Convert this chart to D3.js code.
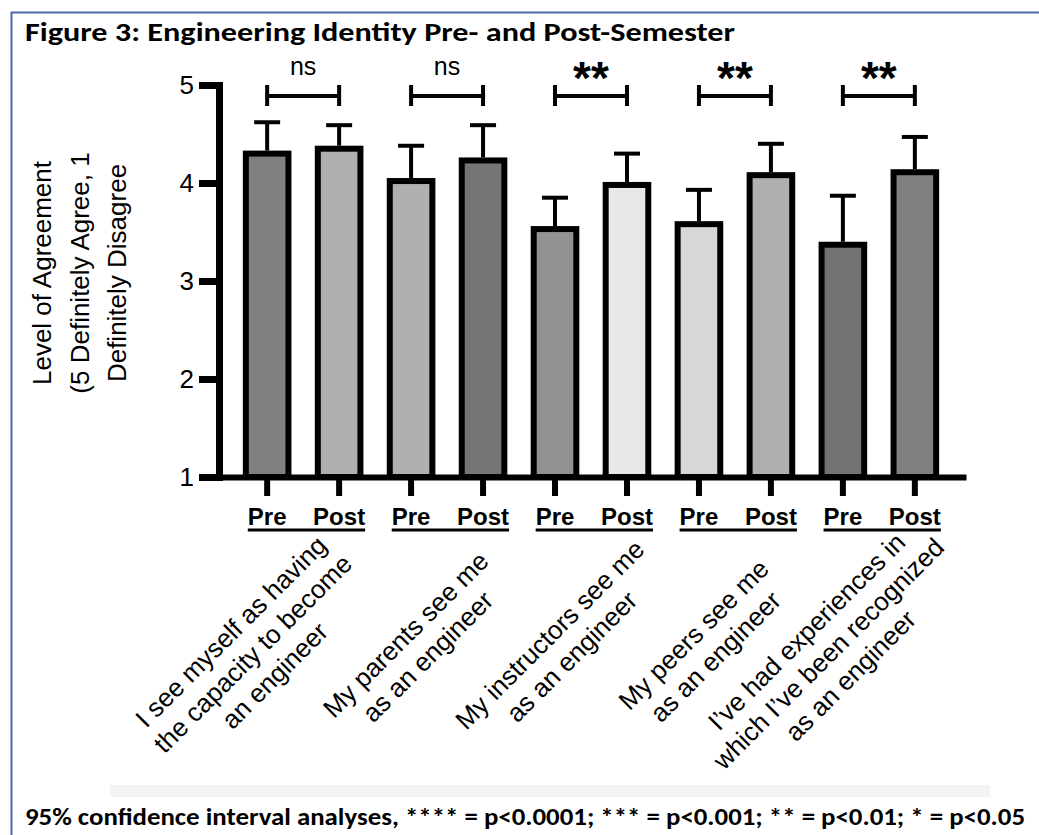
<!DOCTYPE html>
<html>
<head>
<meta charset="utf-8">
<script src="https://cdn.jsdelivr.net/npm/d3@7"></script>
<style>
  html, body { margin: 0; padding: 0; background: #fff; }
  svg { display: block; }
</style>
</head>
<body>
<svg id="chart" width="1039" height="835"></svg>
<script>
// Survey statements (one group each), shown as wrapped lines
const statements = [
  ["I see myself as having", "the capacity to become", "an engineer"],
  ["My parents see me", "as an engineer"],
  ["My instructors see me", "as an engineer"],
  ["My peers see me", "as an engineer"],
  ["I\u2019ve had experiences in", "which I\u2019ve been recognized", "as an engineer"]
];
const phases = ["Pre", "Post"];

// Mean level of agreement and upper 95% CI limit, per statement
const preMeans  = [4.30, 4.02, 3.53, 3.58, 3.37];
const postMeans = [4.35, 4.23, 3.98, 4.08, 4.11];
const preUpper  = [4.62, 4.38, 3.85, 3.93, 3.87];
const postUpper = [4.59, 4.59, 4.30, 4.40, 4.47];

// Pre vs post comparison result per statement
const significance = ["ns", "ns", "**", "**", "**"];

const yTicks = [1, 2, 3, 4, 5];
const yTitleLines = ["Level of Agreement", "(5 Definitely Agree, 1", "Definitely Disagree"];
const titleText = "Figure 3: Engineering Identity Pre- and Post-Semester";
const footnoteText = "95% confidence interval analyses, **** = p<0.0001; *** = p<0.001; ** = p<0.01; * = p<0.05";

// Fill of each bar, in drawing order (statement by statement, pre then post)
const barFills = ["#7f7f7f", "#b0b0b0", "#b0b0b0", "#757575", "#929292",
                  "#e8e8e8", "#d7d7d7", "#b0b0b0", "#737373", "#808080"];

const ARIAL = "'Liberation Sans', Arial, Helvetica, sans-serif";
const CALIBRI = "Carlito, Calibri, Lato, sans-serif";

// One record per bar
const bars = [];
statements.forEach((s, i) => {
  bars.push({ key: i + "-Pre",  group: i, phase: phases[0], mean: preMeans[i],  upper: preUpper[i] });
  bars.push({ key: i + "-Post", group: i, phase: phases[1], mean: postMeans[i], upper: postUpper[i] });
});

const svg = d3.select("#chart");

// Figure frame
svg.append("path")
  .attr("d", "M11.5,835V12.5H1039")
  .attr("fill", "none")
  .attr("stroke", "#4a6aa6")
  .attr("stroke-width", 2);

// Title
svg.append("text")
  .attr("x", 25).attr("y", 41)
  .attr("font-family", CALIBRI)
  .attr("font-weight", "bold")
  .attr("font-size", 26)
  .attr("textLength", 710)
  .attr("lengthAdjust", "spacingAndGlyphs")
  .text(titleText);

// Scales
const x = d3.scaleBand()
  .domain(bars.map(d => d.key))
  .range([219, 963])
  .paddingInner(0.408)
  .paddingOuter(0.373);

const y = d3.scaleLinear().domain([1, 5]).range([477, 85]);
const bw = x.bandwidth();

// Bars
svg.append("g").selectAll("rect")
  .data(bars)
  .join("rect")
  .attr("x", d => x(d.key))
  .attr("y", d => y(d.mean))
  .attr("width", bw)
  .attr("height", d => y(1) - y(d.mean))
  .attr("fill", (d, i) => barFills[i])
  .attr("stroke", "#000")
  .attr("stroke-width", 6);

// Upper confidence whiskers
const whiskers = svg.append("g").attr("stroke", "#000").attr("stroke-width", 4);
whiskers.selectAll("line.stem")
  .data(bars)
  .join("line")
  .attr("class", "stem")
  .attr("x1", d => x(d.key) + bw / 2)
  .attr("x2", d => x(d.key) + bw / 2)
  .attr("y1", d => y(d.mean) - 3)
  .attr("y2", d => y(d.upper));
whiskers.selectAll("line.cap")
  .data(bars)
  .join("line")
  .attr("class", "cap")
  .attr("x1", d => x(d.key) + bw / 2 - 13)
  .attr("x2", d => x(d.key) + bw / 2 + 13)
  .attr("y1", d => y(d.upper))
  .attr("y2", d => y(d.upper));

// Y axis
const gy = svg.append("g")
  .attr("transform", "translate(219,0)")
  .call(d3.axisLeft(y).tickValues(yTicks).tickSize(20).tickPadding(5).tickSizeOuter(0).tickFormat(d3.format("d")));
gy.select(".domain").attr("stroke", "#000").attr("stroke-width", 7).attr("stroke-linecap", "square");
gy.selectAll(".tick line").attr("stroke", "#000").attr("stroke-width", 7);
gy.selectAll(".tick text")
  .attr("font-family", ARIAL).attr("font-size", 26).attr("fill", "#000");

// X axis with Pre / Post tick labels
const gx = svg.append("g")
  .attr("transform", `translate(0,${y(1)})`)
  .call(d3.axisBottom(x).tickSize(19).tickSizeOuter(0).tickPadding(0)
    .tickFormat(k => bars.find(b => b.key === k).phase));
gx.select(".domain").attr("stroke", "#000").attr("stroke-width", 6).attr("stroke-linecap", "square");
gx.selectAll(".tick line").attr("stroke", "#000").attr("stroke-width", 6);
gx.selectAll(".tick text")
  .attr("y", 48).attr("dy", null)
  .attr("font-family", ARIAL).attr("font-size", 24).attr("font-weight", "bold").attr("fill", "#000");

// Underline under each Pre / Post pair
const tickTexts = {};
gx.selectAll(".tick").each(function (k) {
  tickTexts[k] = d3.select(this).select("text").node();
});
statements.forEach((s, i) => {
  const a = tickTexts[i + "-Pre"], b = tickTexts[i + "-Post"];
  const ca = x(i + "-Pre") + bw / 2, cb = x(i + "-Post") + bw / 2;
  const wa = a.getComputedTextLength(), wb = b.getComputedTextLength();
  svg.append("line")
    .attr("x1", ca - wa / 2).attr("x2", cb + wb / 2)
    .attr("y1", y(1) + 53).attr("y2", y(1) + 53)
    .attr("stroke", "#000").attr("stroke-width", 3);
});

// Significance brackets
const brackets = svg.append("g");
statements.forEach((s, i) => {
  const x1 = x(i + "-Pre") + bw / 2, x2 = x(i + "-Post") + bw / 2;
  const top = y(5);
  const g = brackets.append("g").attr("stroke", "#000").attr("stroke-width", 4);
  g.append("line").attr("x1", x1).attr("x2", x2).attr("y1", top + 11).attr("y2", top + 11);
  g.append("line").attr("x1", x1).attr("x2", x1).attr("y1", top).attr("y2", top + 21);
  g.append("line").attr("x1", x2).attr("x2", x2).attr("y1", top).attr("y2", top + 21);
  const isStar = significance[i] !== "ns";
  brackets.append("text")
    .attr("x", (x1 + x2) / 2)
    .attr("y", isStar ? top + 9 : top - 10)
    .attr("text-anchor", "middle")
    .attr("font-family", ARIAL)
    .attr("font-weight", isStar ? "bold" : "normal")
    .attr("font-size", isStar ? 46 : 25)
    .text(significance[i]);
});

// Rotated statement labels under each pair; longer blocks sit further down-left
const lh = 31;
statements.forEach((lines, i) => {
  const cx = (x(i + "-Pre") + x(i + "-Post") + bw) / 2;
  const extra = lines.length - 2;
  const g = svg.append("g")
    .attr("transform", `translate(${cx - 24 - 20 * extra},${652 + 8 * extra}) rotate(-45)`);
  lines.forEach((t, j) => {
    g.append("text")
      .attr("x", 0)
      .attr("y", (j - (lines.length - 1) / 2) * lh)
      .attr("text-anchor", "middle")
      .attr("font-family", ARIAL)
      .attr("font-size", 26)
      .attr("fill", "#000")
      .text(t);
  });
});

// Y axis title
const yt = svg.append("g").attr("transform", "translate(51,273) rotate(-90)");
yTitleLines.forEach((t, j) => {
  yt.append("text")
    .attr("x", 0).attr("y", j * 37.5)
    .attr("text-anchor", "middle")
    .attr("font-family", ARIAL)
    .attr("font-size", 26)
    .attr("fill", "#000")
    .text(t);
});

// Faint band above the footnote
svg.append("rect")
  .attr("x", 110).attr("y", 785).attr("width", 880).attr("height", 12)
  .attr("fill", "#f4f4f4");

// Footnote
svg.append("text")
  .attr("x", 25).attr("y", 825)
  .attr("font-family", CALIBRI)
  .attr("font-weight", "bold")
  .attr("font-size", 25)
  .attr("textLength", 1000)
  .attr("lengthAdjust", "spacingAndGlyphs")
  .text(footnoteText);
</script>
</body>
</html>
